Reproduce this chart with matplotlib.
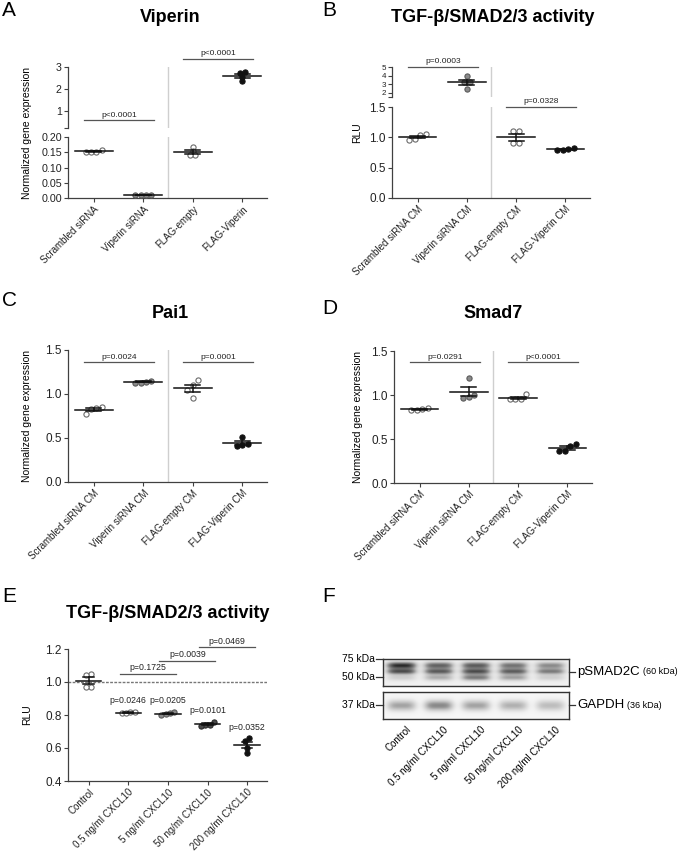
import numpy as np
import matplotlib
matplotlib.use('Agg')
import matplotlib.pyplot as plt

plt.rcParams['font.family'] = ['Liberation Sans', 'DejaVu Sans']

# ---------------- data ----------------
cats_a = ['Scrambled siRNA', 'Viperin siRNA', 'FLAG-empty', 'FLAG-Viperin']
viperin_vals = [[0.150, 0.151, 0.152, 0.157],
                [0.010, 0.010, 0.010, 0.010],
                [0.168, 0.155, 0.142, 0.142],
                [2.76, 2.74, 2.55, 2.36]]

cats_cm = ['Scrambled siRNA CM', 'Viperin siRNA CM', 'FLAG-empty CM', 'FLAG-Viperin CM']
tgf_vals = [[1.05, 1.04, 0.95, 0.98],
            [3.9, 3.3, 3.2, 2.4],
            [1.10, 1.10, 0.90, 0.90],
            [0.81, 0.79, 0.79, 0.82]]
pai1_vals = [[0.85, 0.84, 0.83, 0.77],
             [1.14, 1.13, 1.13, 1.15],
             [1.16, 1.10, 1.04, 0.96],
             [0.51, 0.43, 0.41, 0.42]]
smad7_vals = [[0.84, 0.83, 0.83, 0.85],
              [1.19, 1.00, 0.97, 0.98],
              [1.01, 0.96, 0.95, 0.95],
              [0.42, 0.44, 0.36, 0.36]]

cats_e = ['Control', '0.5 ng/ml CXCL10', '5 ng/ml CXCL10', '50 ng/ml CXCL10', '200 ng/ml CXCL10']
tgf_e_vals = [[1.05, 1.04, 0.97, 0.97],
              [0.82, 0.81, 0.81, 0.82],
              [0.81, 0.80, 0.805, 0.82],
              [0.74, 0.735, 0.74, 0.76],
              [0.66, 0.64, 0.60, 0.57]]
e_group_p = ['', 'p=0.0246', 'p=0.0205', 'p=0.0101', 'p=0.0352']

p_a = ['p<0.0001', 'p<0.0001']
p_b = ['p=0.0003', 'p=0.0328']
p_c = ['p=0.0024', 'p=0.0001']
p_d = ['p=0.0291', 'p<0.0001']
p_e_pairs = [(1, 2, 'p=0.1725', 1.05), (2, 3, 'p=0.0039', 1.13), (3, 4, 'p=0.0469', 1.21)]

blot_lanes = cats_e
psmad_top = [0.85, 0.65, 0.68, 0.58, 0.48]
psmad_mid = [0.70, 0.65, 0.70, 0.64, 0.52]
psmad_low = [0.20, 0.35, 0.55, 0.40, 0.20]
gapdh_band = [0.45, 0.55, 0.45, 0.40, 0.35]

# ---------------- helpers ----------------
W, H = 683, 857
fig = plt.figure(figsize=(W / 100, H / 100), dpi=100)
fig.patch.set_facecolor('white')

SPINE = '#404040'
STY = {'open': dict(facecolor='white', edgecolor='#6a6a6a'),
       'gray': dict(facecolor='#8a8a8a', edgecolor='#5a5a5a'),
       'dark': dict(facecolor='#4a4a4a', edgecolor='#2a2a2a'),
       'black': dict(facecolor='#111111', edgecolor='#111111')}


def add_ax(l, t, r, b):
    return fig.add_axes([l / W, 1 - b / H, (r - l) / W, (b - t) / H])


def style_ax(ax, labelsize=8.5):
    for s in ['top', 'right']:
        ax.spines[s].set_visible(False)
    for s in ['left', 'bottom']:
        ax.spines[s].set_color(SPINE)
        ax.spines[s].set_linewidth(0.9)
    ax.tick_params(direction='out', length=3, width=0.8, color=SPINE,
                   labelsize=labelsize, pad=1.5, labelcolor='#222222')


def offsets(vals, thr, step=0.11):
    vals = np.asarray(vals, float)
    order = np.argsort(vals)
    off = np.zeros(len(vals))
    clusters, cur = [], [order[0]]
    for idx in order[1:]:
        if vals[idx] - vals[cur[-1]] < thr:
            cur.append(idx)
        else:
            clusters.append(cur)
            cur = [idx]
    clusters.append(cur)
    for c in clusters:
        k = len(c)
        for j, idx in enumerate(c):
            off[idx] = (j - (k - 1) / 2) * step
    return off


def dot_plot(axes, groups, styles, frac=0.05, half=0.38, cap=0.15):
    for i, vals in enumerate(groups):
        vals = np.asarray(vals, float)
        m = vals.mean()
        sem = vals.std(ddof=1) / np.sqrt(len(vals))
        rng = None
        for ax in axes:
            lo, hi = ax.get_ylim()
            if lo <= m <= hi:
                rng = hi - lo
        off = offsets(vals, frac * rng)
        for ax in axes:
            lo, hi = ax.get_ylim()
            msk = (vals >= lo) & (vals <= hi)
            if msk.any():
                ax.scatter(i + off[msk], vals[msk], s=14, linewidths=0.8, zorder=3,
                           **STY[styles[i]])
            ax.plot([i - half, i + half], [m, m], color='#111111', lw=1.1, zorder=4)
            ax.plot([i, i], [m - sem, m + sem], color='#111111', lw=1.1, zorder=4)
            for y in (m - sem, m + sem):
                ax.plot([i - cap, i + cap], [y, y], color='#111111', lw=1.1, zorder=4)


def sig(ax, x0, x1, y, text, fs=6):
    ax.plot([x0, x1], [y, y], color='#555555', lw=0.9, clip_on=False)
    ax.annotate(text, xy=((x0 + x1) / 2, y), xytext=(0, 1.2), textcoords='offset points',
                ha='center', va='bottom', fontsize=fs, color='#222222', annotation_clip=False)


def sep(ax):
    ax.axvline(1.5, color='#cfcfcf', lw=1.0, zorder=0)


def cat_labels(ax, cats, fs=7):
    ax.set_xticks(range(len(cats)))
    ax.set_xticklabels(cats, rotation=45, ha='right', rotation_mode='anchor', fontsize=fs)


def title(x, y, t):
    fig.text(x / W, 1 - y / H, t, ha='center', va='center', fontsize=13, weight='bold')


def letter(x, y, t):
    fig.text(x / W, 1 - y / H, t, ha='left', va='center', fontsize=15)


def ylab(x, y, t):
    fig.text(x / W, 1 - y / H, t, ha='center', va='center', rotation=90, fontsize=7.5)


# ---------------- Panel A ----------------
letter(2, 10, 'A')
title(170, 17, 'Viperin')
axA_up = add_ax(68, 67, 267, 128)
axA_lo = add_ax(68, 137, 267, 198)
for ax in (axA_up, axA_lo):
    style_ax(ax, 7.7)
    ax.set_xlim(-0.52, 3.5)
    sep(ax)
axA_up.set_ylim(0.2, 3)
axA_up.set_yticks([0.2, 1, 2, 3])
axA_up.set_yticklabels(['', '1', '2', '3'])
axA_up.spines['bottom'].set_visible(False)
axA_up.set_xticks([])
axA_lo.set_ylim(0, 0.2)
axA_lo.set_yticks([0, 0.05, 0.10, 0.15, 0.20])
axA_lo.set_yticklabels(['0.00', '0.05', '0.10', '0.15', '0.20'])
dot_plot([axA_up, axA_lo], viperin_vals, ['open', 'gray', 'open', 'black'])
sig(axA_up, -0.2, 1.22, 0.55, p_a[0])
sig(axA_up, 1.8, 3.22, 3.36, p_a[1])
cat_labels(axA_lo, cats_a)
ylab(27, 133, 'Normalized gene expression')

# ---------------- Panel B ----------------
letter(322, 10, 'B')
title(493, 17, 'TGF-β/SMAD2/3 activity')
axB_up = add_ax(392, 67, 590, 97)
axB_lo = add_ax(392, 107, 590, 198)
for ax in (axB_up, axB_lo):
    style_ax(ax)
    ax.set_xlim(-0.52, 3.5)
    sep(ax)
axB_up.set_ylim(1.5, 5)
axB_up.set_yticks([1.5, 2, 3, 4, 5])
axB_up.set_yticklabels(['', '2', '3', '4', '5'])
axB_up.tick_params(axis='y', labelsize=5.8, pad=1)
axB_up.spines['bottom'].set_visible(False)
axB_up.set_xticks([])
axB_lo.set_ylim(0, 1.5)
axB_lo.set_yticks([0, 0.5, 1.0, 1.5])
axB_lo.set_yticklabels(['0.0', '0.5', '1.0', '1.5'])
dot_plot([axB_up, axB_lo], tgf_vals, ['open', 'gray', 'open', 'black'])
sig(axB_up, -0.2, 1.22, 5.05, p_b[0])
sig(axB_lo, 1.8, 3.22, 1.5, p_b[1])
cat_labels(axB_lo, cats_cm)
ylab(357, 133, 'RLU')

# ---------------- Panel C ----------------
letter(2, 300, 'C')
title(170, 313, 'Pai1')
axC = add_ax(68, 350, 267, 482)
style_ax(axC)
axC.set_xlim(-0.52, 3.5)
axC.set_ylim(0, 1.5)
axC.set_yticks([0, 0.5, 1.0, 1.5])
axC.set_yticklabels(['0.0', '0.5', '1.0', '1.5'])
sep(axC)
dot_plot([axC], pai1_vals, ['open', 'gray', 'open', 'black'])
sig(axC, -0.2, 1.22, 1.36, p_c[0])
sig(axC, 1.8, 3.22, 1.36, p_c[1])
cat_labels(axC, cats_cm)
ylab(27, 416, 'Normalized gene expression')

# ---------------- Panel D ----------------
letter(322, 309, 'D')
title(493, 313, 'Smad7')
axD = add_ax(394, 351, 592, 483)
style_ax(axD)
axD.set_xlim(-0.52, 3.5)
axD.set_ylim(0, 1.5)
axD.set_yticks([0, 0.5, 1.0, 1.5])
axD.set_yticklabels(['0.0', '0.5', '1.0', '1.5'])
sep(axD)
dot_plot([axD], smad7_vals, ['open', 'gray', 'open', 'black'])
sig(axD, -0.2, 1.22, 1.37, p_d[0])
sig(axD, 1.8, 3.22, 1.37, p_d[1])
cat_labels(axD, cats_cm)
ylab(358, 417, 'Normalized gene expression')

# ---------------- Panel E ----------------
letter(2, 597, 'E')
title(168, 613, 'TGF-β/SMAD2/3 activity')
axE = add_ax(68, 649, 267, 781)
style_ax(axE)
axE.set_xlim(-0.52, 4.5)
axE.set_ylim(0.4, 1.2)
axE.set_yticks([0.4, 0.6, 0.8, 1.0, 1.2])
axE.set_yticklabels(['0.4', '0.6', '0.8', '1.0', '1.2'])
axE.axhline(1.0, color='#777777', lw=1.0, ls=(0, (2, 1)), zorder=1)
dot_plot([axE], tgf_e_vals, ['open', 'open', 'gray', 'dark', 'black'], frac=0.035, half=0.32, cap=0.13)
for i, (vals, t) in enumerate(zip(tgf_e_vals, e_group_p)):
    if t:
        axE.text(i, max(vals) + 0.04, t, ha='center', va='bottom', fontsize=6.3, color='#222222')
for a, b, t, y in p_e_pairs:
    sig(axE, a - 0.22, b + 0.2, y, t, fs=6.3)
cat_labels(axE, cats_e)
ylab(27, 715, 'RLU')

# ---------------- Panel F (western blot) ----------------
letter(322, 597, 'F')
nl = len(blot_lanes)


def blot_image(rows, bands, bg=0.12):
    cols = 372
    x = (np.arange(cols) + 0.5) / cols * nl - 0.5
    y = np.arange(rows) + 0.5
    img = np.full((rows, cols), bg)
    for amps, yc, sy in bands:
        for i, a in enumerate(amps):
            gx = np.exp(-(np.abs(x - i) / 0.40) ** 4)
            gy = np.exp(-0.5 * ((y - yc) / sy) ** 2)
            img += a * np.outer(gy, gx)
    return np.clip(img, 0, 1)


axF1 = add_ax(383, 659, 569, 686)
axF2 = add_ax(383, 692, 569, 719)
img1 = blot_image(54, [(psmad_top, 13, 5.0), (psmad_mid, 25, 4.0), (psmad_low, 37, 4.5)], bg=0.14)
img2 = blot_image(54, [(gapdh_band, 27, 8.0)], bg=0.08)
for ax, img in ((axF1, img1), (axF2, img2)):
    ax.imshow(img, cmap='Greys', vmin=0, vmax=1.15, aspect='auto',
              extent=(-0.5, nl - 0.5, 1, 0), interpolation='bilinear')
    ax.set_xlim(-0.5, nl - 0.5)
    ax.set_ylim(1, 0)
    for s in ax.spines.values():
        s.set_color('#333333')
        s.set_linewidth(1.0)
    ax.set_yticks([])
    ax.set_xticks([])

axF2.set_xticks(np.arange(nl) + 0.12)
axF2.set_xticklabels(blot_lanes, rotation=45, ha='right', rotation_mode='anchor', fontsize=7)
axF2.tick_params(length=0, pad=4)


def marker(y, t):
    fig.add_artist(plt.Line2D([376 / W, 383 / W], [1 - y / H, 1 - y / H], color='#333333', lw=0.9))
    fig.text(375 / W, 1 - y / H, t, ha='right', va='center', fontsize=7.5)


marker(659, '75 kDa')
marker(677, '50 kDa')
marker(705, '37 kDa')


def rlabel(y, big, small):
    fig.add_artist(plt.Line2D([569 / W, 575 / W], [1 - y / H, 1 - y / H], color='#333333', lw=0.9))
    t = fig.text(577 / W, 1 - y / H, big, ha='left', va='center', fontsize=9.5)
    fig.canvas.draw()
    bb = t.get_window_extent()
    fig.text((bb.x1 + 3) / W, 1 - y / H, small, ha='left', va='center', fontsize=6.5)


rlabel(672, 'pSMAD2C', '(60 kDa)')
rlabel(705, 'GAPDH', '(36 kDa)')

fig.savefig('out.png', dpi=100, facecolor='white')
